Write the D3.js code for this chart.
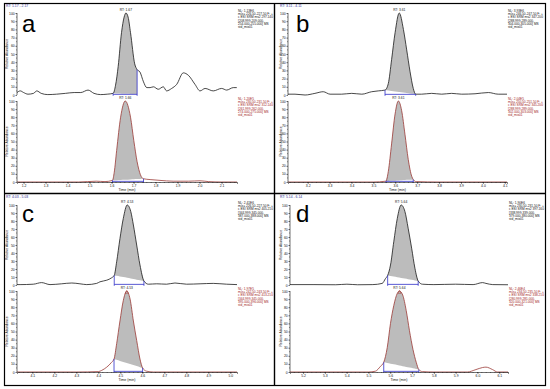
<!DOCTYPE html>
<html>
<head>
<meta charset="utf-8">
<script src="https://cdn.jsdelivr.net/npm/d3@7"></script>
<style>
  body { margin: 0; background: #fff; }
  svg { display: block; font-family: "Liberation Sans", Arial, sans-serif; }
</style>
</head>
<body>
<div id="chart"></div>
<script>
// panel data (time in min, relative abundance in %)
const panelLetters = ["a", "b", "c", "d"];
const rtRanges = [[1.17, 2.17], [3.11, 4.11], [4.03, 5.03], [5.14, 6.14]];
const xTicks = [
  [1.2, 1.3, 1.4, 1.5, 1.6, 1.7, 1.8, 1.9, 2.0, 2.1],
  [3.2, 3.3, 3.4, 3.5, 3.6, 3.7, 3.8, 3.9, 4.0, 4.1],
  [4.1, 4.2, 4.3, 4.4, 4.5, 4.6, 4.7, 4.8, 4.9, 5.0],
  [5.2, 5.3, 5.4, 5.5, 5.6, 5.7, 5.8, 5.9, 6.0, 6.1]
];
const yTicks = [0, 10, 20, 30, 40, 50, 60, 70, 80, 90, 100];

const aTop = [[1.17,3],[1.185,5],[1.20,3],[1.22,1],[1.245,2],[1.26,5],[1.28,2],[1.31,0.5],[1.35,1],[1.39,2],
  [1.43,3],[1.46,3],[1.493,6],[1.52,2],[1.55,0.5],[1.58,1],[1.607,2],[1.618,12],[1.630,35],[1.645,76],
  [1.657,95],[1.665,100],[1.675,95],[1.686,76],[1.705,38],[1.716,31],[1.729,28],[1.745,16],[1.760,9],
  [1.775,9],[1.790,10],[1.812,7],[1.835,10],[1.850,5],[1.873,8],[1.896,13],[1.926,27],[1.949,24],
  [1.979,13],[2.002,5],[2.025,8],[2.062,5],[2.100,8],[2.123,6],[2.153,9],[2.169,9]];
const aBot = [[1.17,0],[1.30,0],[1.45,0],[1.53,1],[1.57,0.5],[1.604,2],[1.612,12],[1.623,39],[1.641,80],
  [1.662,100],[1.686,80],[1.701,51],[1.716,25],[1.731,9],[1.745,4],[1.775,3],[1.82,2],[1.88,1],[1.95,1],
  [2.002,1.5],[2.04,0.5],[2.10,0],[2.17,0]];
const bTop = [[3.11,1],[3.142,1],[3.188,0],[3.233,2],[3.271,4],[3.302,1],[3.355,1],[3.401,2],[3.447,1],
  [3.492,4],[3.522,5],[3.553,6],[3.568,14],[3.583,43],[3.599,76],[3.618,100],[3.637,80],[3.652,55],
  [3.667,29],[3.682,8],[3.693,1],[3.720,1],[3.766,2],[3.812,1],[3.857,2],[3.903,1],[3.964,1.5],
  [4.025,3],[4.070,1],[4.11,1]];
const bBot = [[3.11,0],[3.30,0],[3.50,0],[3.557,1],[3.568,13],[3.583,47],[3.599,84],[3.614,100],[3.629,88],
  [3.644,59],[3.659,28],[3.675,7],[3.682,3],[3.695,0.5],[3.80,0],[4.11,0]];
const cTop = [[4.03,0.5],[4.044,0.5],[4.104,1],[4.142,3],[4.180,0.5],[4.233,1.5],[4.279,2.5],[4.316,1.5],
  [4.347,0.5],[4.392,2],[4.407,4],[4.438,6],[4.460,9],[4.472,12],[4.483,29],[4.498,58],[4.513,83],
  [4.531,100],[4.547,92],[4.559,75],[4.574,50],[4.589,25],[4.607,5],[4.627,1],[4.665,1.5],[4.710,1],
  [4.748,2.5],[4.801,1],[4.862,1.5],[4.922,2],[4.983,1],[5.03,0.5]];
const cBot = [[4.03,0],[4.30,0],[4.40,0.5],[4.415,2],[4.438,6],[4.460,12],[4.471,16],[4.483,35],[4.498,63],
  [4.513,88],[4.529,100],[4.544,90],[4.559,63],[4.574,39],[4.589,16],[4.601,5],[4.619,1],[4.65,0],[5.03,0]];
const dTop = [[5.14,0.5],[5.25,0.5],[5.35,0.3],[5.401,1],[5.45,0.3],[5.52,0.5],[5.563,2],[5.578,8],
  [5.588,12],[5.601,25],[5.616,54],[5.632,83],[5.650,100],[5.667,92],[5.682,71],[5.698,46],[5.713,21],
  [5.728,5],[5.747,1],[5.80,0.5],[5.90,1],[5.98,0.5],[6.023,3],[6.039,2],[6.07,0.5],[6.14,0.3]];
const dBot = [[5.14,0],[5.40,0],[5.50,0],[5.532,1],[5.555,7],[5.570,12],[5.586,30],[5.601,60],[5.616,82],
  [5.632,97],[5.642,100],[5.657,95],[5.673,76],[5.688,51],[5.704,28],[5.719,12],[5.731,3],[5.747,0.5],
  [5.80,0],[5.954,0],[5.993,3],[6.023,5.5],[6.039,6],[6.069,3],[6.092,0],[6.14,0]];

const traces = [[aTop, aBot], [bTop, bBot], [cTop, cBot], [dTop, dBot]];
// integration window [start, end] and baseline level at each end
const peakRanges = [[[1.607,1.716],[1.604,1.745]], [[3.553,3.693],[3.557,3.682]],
                    [[4.472,4.607],[4.471,4.601]], [[5.588,5.728],[5.570,5.731]]];
const peakBase = [[[2,1],[2,4]], [[6,1],[1,3]], [[12,5],[16,5]], [[12,5],[12,3]]];
const rtLabels = [["RT: 1.67","RT: 1.66"], ["RT: 3.61","RT: 3.61"], ["RT: 4.53","RT: 4.53"], ["RT: 5.64","RT: 5.64"]];
const rtHeaders = ["RT: 1.17 - 2.17", "RT: 3.11 - 4.11", "RT: 4.03 - 5.03", "RT: 5.14 - 6.14"];
const apexMarks = [false, false, true, true];
const annoTop = [
  ["NL: 1.13E6","m/z= 226.50-227.50 F: +","c ESI SRM ms2 297.140","[208.999-209.000,","254.000-255.000]  MS","std_mix01"],
  ["NL: 3.93E6","m/z= 246.50-247.50 F: +","c ESI SRM ms2 347.200","[288.999-289.000,","304.000-305.000]  MS","std_mix01"],
  ["NL: 2.41E6","m/z= 226.50-227.50 F: +","c ESI SRM ms2 405.210","[344.999-345.000,","387.000-388.000]  MS","std_mix01"],
  ["NL: 1.90E6","m/z= 230.50-231.50 F: +","c ESI SRM ms2 397.160","[338.999-339.000,","379.000-380.000]  MS","std_mix01"]
];
const annoBot = [
  ["NL: 1.20E5","m/z= 230.50-231.50 F: +","c ESI SRM ms2 312.140","[261.999-262.000,","274.000-275.000]  MS","std_mix01"],
  ["NL: 2.04E5","m/z= 250.50-251.50 F: +","c ESI SRM ms2 345.200","[288.999-289.000,","302.000-303.000]  MS","std_mix01"],
  ["NL: 1.97E5","m/z= 242.50-243.50 F: +","c ESI SRM ms2 413.210","[344.999-345.000,","395.000-396.000]  MS","std_mix01"],
  ["NL: 2.46E4","m/z= 234.50-235.50 F: +","c ESI SRM ms2 338.210","[280.999-281.000,","320.000-321.000]  MS","std_mix01"]
];

const W = 550, H = 389;
const colX = [0, 274];
const plotLeft = [17, 14, 17, 16];
const plotWidth = [220, 219, 220, 218];
const rowGeo = [
  { top: [13, 95], bot: [101, 182], header: 7, letter: 31.5 },
  { top: [205, 285], bot: [291, 372], header: 197.5, letter: 222 }
];
const lineColors = ["#1a1a1a", "#9a3a36"];
const annoColors = ["#111", "#a0201a"];

const svg = d3.select("#chart").append("svg")
  .attr("width", W).attr("height", H);

// frame
svg.append("rect").attr("x", 4.5).attr("y", 3.5).attr("width", 541).attr("height", 382)
  .attr("fill", "none").attr("stroke", "#000").attr("stroke-width", 1.2);
svg.append("line").attr("x1", 274.5).attr("x2", 274.5).attr("y1", 3.5).attr("y2", 385.5)
  .attr("stroke", "#000").attr("stroke-width", 1.4);
svg.append("line").attr("x1", 4.5).attr("x2", 545.5).attr("y1", 193.5).attr("y2", 193.5)
  .attr("stroke", "#000").attr("stroke-width", 1.4);

panelLetters.forEach((letter, p) => {
  const ox = colX[p % 2];
  const geo = rowGeo[Math.floor(p / 2)];
  const left = ox + plotLeft[p];
  const x = d3.scaleLinear().domain(rtRanges[p]).range([left, left + plotWidth[p]]);

  svg.append("text").attr("x", ox + 6).attr("y", geo.header)
    .attr("font-size", 3.4).attr("fill", "#2a2a90").text(rtHeaders[p]);

  [geo.top, geo.bot].forEach((yr, k) => {
    const data = traces[p][k];
    const y = d3.scaleLinear().domain([0, 100]).range([yr[1], yr[0]]);
    const g = svg.append("g");

    // integrated peak area
    const [t0, t1] = peakRanges[p][k];
    const [b0, b1] = peakBase[p][k];
    const inPeak = data.filter(d => d[0] >= t0 && d[0] <= t1);
    const base = d3.scaleLinear().domain([t0, t1]).range([b0, b1]);
    g.append("path").datum(inPeak)
      .attr("fill", "#bcbcbc")
      .attr("d", d3.area().curve(d3.curveMonotoneX)
        .x(d => x(d[0])).y0(d => y(base(d[0]))).y1(d => y(d[1])));

    // trace
    g.append("path").datum(data)
      .attr("fill", "none").attr("stroke", lineColors[k]).attr("stroke-width", 0.8)
      .attr("d", d3.line().curve(d3.curveMonotoneX).x(d => x(d[0])).y(d => y(d[1])));

    // integration markers
    const v0 = inPeak[0][1], v1 = inPeak[inPeak.length - 1][1];
    g.append("line").attr("x1", x(t0)).attr("x2", x(t1)).attr("y1", y(0.8)).attr("y2", y(0.8))
      .attr("stroke", "#3030c8").attr("stroke-width", 0.8);
    [[t0, v0], [t1, v1]].forEach(([t, v]) => {
      g.append("line").attr("x1", x(t)).attr("x2", x(t)).attr("y1", y(0) + 0.8).attr("y2", y(v))
        .attr("stroke", "#3030c8").attr("stroke-width", 0.8);
    });

    // apex label
    const apex = d3.greatest(data, d => d[1]);
    g.append("text").attr("x", x(apex[0])).attr("y", y(100) - 1.8)
      .attr("text-anchor", "middle").attr("font-size", 3.3).attr("fill", "#111")
      .text(rtLabels[p][k]);
    if (k === 1 && apexMarks[p]) {
      const ax = x(apex[0]), ay = y(100);
      g.append("path").attr("d", `M${ax - 1.6},${ay + 2.4}L${ax},${ay - 0.6}L${ax + 1.6},${ay + 2.4}Z`)
        .attr("fill", "none").attr("stroke", "#a0201a").attr("stroke-width", 0.4);
    }

    // y axis
    const yAxis = g.append("g").attr("transform", `translate(${left},0)`)
      .call(d3.axisLeft(y).tickValues(yTicks).tickSize(1.5).tickPadding(0.8));
    yAxis.selectAll("text").attr("font-size", 3.4).attr("fill", "#111");
    yAxis.selectAll("line,path").attr("stroke", "#111").attr("stroke-width", 0.6);
    yAxis.select(".domain").attr("d", `M0,${yr[1]}V${yr[0]}`);
    g.selectAll(null).data(d3.range(5, 100, 10)).enter().append("line")
      .attr("x1", left - 0.8).attr("x2", left).attr("y1", d => y(d)).attr("y2", d => y(d))
      .attr("stroke", "#111").attr("stroke-width", 0.5);

    g.append("text")
      .attr("transform", `translate(${ox + 8},${(yr[0] + yr[1]) / 2}) rotate(-90)`)
      .attr("text-anchor", "middle").attr("font-size", 3.4).attr("fill", "#111")
      .text("Relative Abundance");

    // annotation block
    const anno = k === 0 ? annoTop[p] : annoBot[p];
    const at = g.append("text").attr("font-size", 3.2).attr("fill", annoColors[k]);
    anno.forEach((s, i) => {
      at.append("tspan").attr("x", left + plotWidth[p] + 1).attr("y", yr[0] - 1 + i * 3.2).text(s);
    });

    // x axis on lower trace
    if (k === 1) {
      const xAxis = g.append("g").attr("transform", `translate(0,${yr[1]})`)
        .call(d3.axisBottom(x).tickValues(xTicks[p]).tickSize(1.8).tickPadding(0.8)
          .tickFormat(d3.format(".1f")));
      xAxis.selectAll("text").attr("font-size", 3.4).attr("fill", "#111");
      xAxis.selectAll("line,path").attr("stroke", "#111").attr("stroke-width", 0.6);
      const minor = d3.range(Math.ceil(rtRanges[p][0] * 50), Math.floor(rtRanges[p][1] * 50) + 1).map(i => i / 50);
      g.selectAll(null).data(minor).enter().append("line")
        .attr("x1", d => x(d)).attr("x2", d => x(d)).attr("y1", yr[1]).attr("y2", yr[1] + 1)
        .attr("stroke", "#111").attr("stroke-width", 0.4);
      g.append("text").attr("x", left + plotWidth[p] / 2).attr("y", yr[1] + 9)
        .attr("text-anchor", "middle").attr("font-size", 3.6).attr("fill", "#111")
        .text("Time (min)");
    }
  });

  svg.append("text").attr("x", ox + 22).attr("y", geo.letter)
    .attr("font-size", 24).attr("fill", "#000").text(letter);
});
</script>
</body>
</html>
